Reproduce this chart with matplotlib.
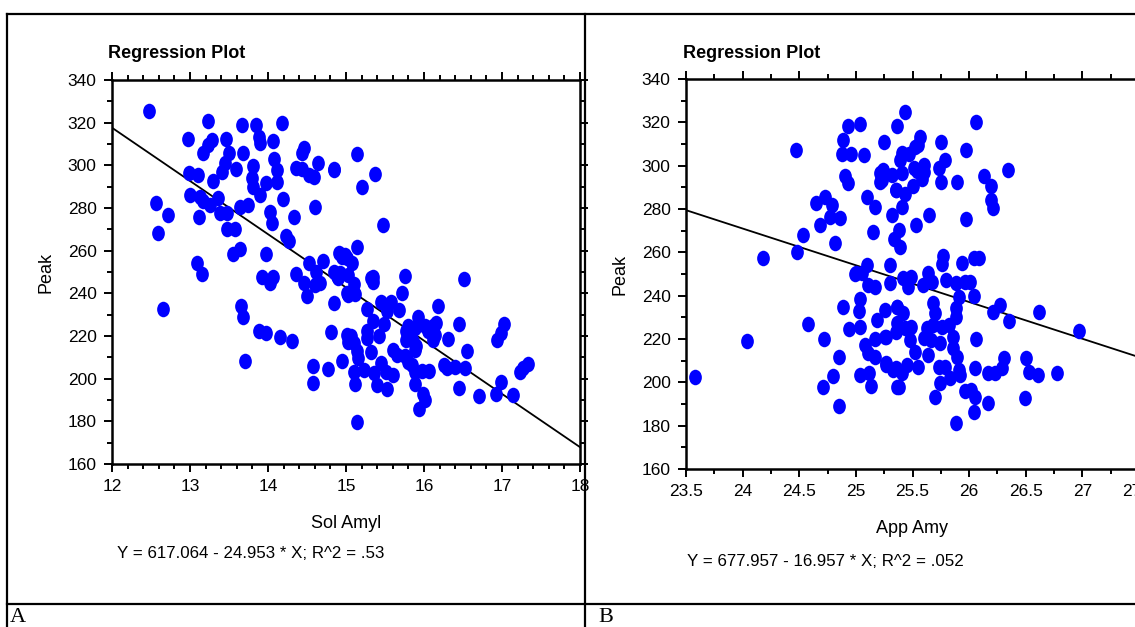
import matplotlib
matplotlib.use("Agg")
import matplotlib.pyplot as plt
import numpy as np
from matplotlib.lines import Line2D
from matplotlib.path import Path
from matplotlib.transforms import Affine2D
from matplotlib.ticker import MultipleLocator

# panel A: Sol Amyl vs Peak
sol_amyl = [12.47, 13.23, 13.67, 13.85, 14.18, 12.97, 13.28, 13.23, 13.17, 13.46,
            13.50, 13.68, 13.89, 13.90, 14.06, 14.46, 14.43, 14.64, 14.85, 14.36,
            14.43, 14.52, 14.59, 14.08, 14.11, 14.11, 13.98, 13.81, 13.79, 13.81,
            13.90, 13.59, 13.45, 13.41, 13.30, 12.99, 13.10, 13.00, 13.13, 13.17,
            13.26, 13.36, 13.38, 13.47, 13.64, 13.74, 14.19, 14.60, 14.03, 14.05,
            14.33, 12.57, 12.72, 12.59, 13.12, 13.47, 13.58, 14.23, 14.27, 13.64,
            13.55, 13.98, 14.52, 14.70, 13.09, 13.15, 13.92, 14.06, 14.36, 14.62,
            14.91, 14.99, 14.84, 14.92, 15.14, 14.85, 15.37, 15.21, 15.48, 15.14,
            14.95, 15.01, 15.08, 14.88, 15.03, 15.32, 15.75, 16.51, 12.66, 13.66,
            13.68, 13.71, 13.88, 13.98, 14.16, 14.31, 14.03, 14.46, 14.50, 14.60,
            14.67, 14.90, 14.85, 15.01, 14.58, 14.58, 14.77, 14.81, 14.95, 15.01,
            15.03, 15.10, 15.12, 15.03, 15.34, 15.35, 15.72, 15.27, 15.45, 15.58,
            15.68, 15.53, 15.34, 15.27, 15.27, 15.06, 15.10, 15.49, 15.42, 15.32,
            15.14, 15.16, 15.10, 15.12, 15.23, 15.36, 15.40, 15.53, 15.45, 15.51,
            15.60, 15.60, 15.66, 15.75, 15.79, 15.77, 15.77, 15.86, 15.88, 15.90,
            15.79, 15.92, 15.88, 15.84, 15.88, 15.97, 15.88, 15.99, 16.01, 15.94,
            15.14, 16.06, 16.01, 16.12, 16.16, 16.12, 16.05, 16.14, 16.18, 16.31,
            16.45, 16.55, 16.25, 16.29, 16.40, 16.53, 16.45, 16.71, 16.92, 16.99,
            17.14, 16.94, 16.99, 17.03, 17.23, 17.27, 17.33]
peak_a = [325.5, 320.8, 318.9, 318.9, 320.0, 312.4, 311.9, 309.5, 305.7, 312.4,
          306.0, 306.0, 313.4, 310.3, 311.4, 308.0, 306.0, 301.3, 298.3, 298.6,
          298.2, 295.5, 294.4, 302.8, 297.8, 292.3, 291.6, 299.5, 293.9, 290.0,
          286.1, 298.2, 301.0, 297.0, 292.7, 296.6, 295.5, 286.1, 285.3, 283.2,
          281.4, 284.6, 277.5, 277.5, 280.6, 281.4, 284.2, 280.6, 278.3, 272.8,
          276.0, 282.2, 276.7, 268.4, 276.0, 270.2, 270.2, 266.9, 264.3, 260.8,
          258.3, 258.3, 254.4, 255.2, 254.4, 249.1, 247.8, 247.8, 248.9, 250.2,
          258.8, 258.0, 250.2, 249.4, 305.4, 297.6, 295.9, 290.0, 272.1, 261.5,
          257.2, 256.7, 254.3, 248.0, 248.8, 247.2, 248.3, 246.7, 232.7, 234.1,
          228.8, 208.4, 222.4, 221.3, 219.7, 217.7, 245.0, 245.0, 238.6, 243.9,
          244.7, 247.0, 235.6, 240.0, 205.8, 197.8, 204.5, 222.0, 208.4, 220.5,
          217.3, 244.5, 239.7, 239.0, 247.7, 245.3, 240.0, 232.6, 235.8, 235.8,
          232.1, 231.8, 227.1, 222.3, 219.1, 219.9, 216.8, 225.5, 219.9, 212.5,
          212.8, 209.6, 203.3, 197.7, 204.1, 202.5, 196.9, 195.3, 207.2, 203.3,
          201.7, 213.6, 211.2, 210.4, 208.0, 222.3, 218.3, 217.6, 213.6, 215.2,
          224.7, 228.7, 223.9, 206.2, 203.0, 203.8, 197.7, 192.8, 189.8, 185.8,
          179.8, 203.7, 224.7, 224.7, 226.3, 218.3, 222.3, 220.7, 234.2, 218.8,
          225.5, 213.1, 206.4, 204.9, 205.7, 204.9, 195.4, 191.7, 193.0, 198.5,
          192.2, 218.3, 221.5, 225.5, 203.3, 204.9, 206.7]

# panel B: App Amy vs Peak
app_amy = [24.47, 24.93, 25.04, 24.89, 24.88, 24.96, 25.07, 25.25, 24.90, 24.93,
           25.21, 25.24, 25.21, 25.32, 25.35, 25.10, 25.17, 24.65, 24.73, 24.79,
           24.77, 24.86, 24.68, 25.15, 25.32, 24.53, 24.82, 24.18, 24.48, 25.10,
           25.00, 25.05, 25.30, 25.43, 25.36, 26.06, 25.57, 25.55, 25.52, 25.75,
           25.97, 25.41, 25.47, 25.39, 25.79, 25.73, 25.60, 25.54, 25.60, 25.58,
           25.51, 25.24, 25.41, 25.23, 25.75, 25.89, 26.13, 26.19, 26.19, 26.21,
           26.34, 25.50, 25.43, 25.35, 25.41, 25.65, 25.53, 25.97, 25.38, 25.34,
           25.39, 25.77, 25.76, 25.94, 26.04, 26.09, 23.58, 24.04, 24.58, 24.72,
           24.85, 24.80, 24.71, 24.85, 24.89, 24.99, 25.11, 25.17, 25.30, 25.04,
           25.03, 24.94, 25.04, 25.19, 25.26, 25.36, 25.17, 25.26, 25.35, 25.08,
           25.11, 25.17, 25.27, 25.33, 25.04, 25.12, 25.13, 25.36, 25.42, 25.49,
           25.46, 25.59, 25.64, 25.67, 25.80, 25.88, 25.96, 26.01, 26.04, 25.91,
           25.88, 25.88, 25.68, 25.70, 25.36, 25.42, 25.36, 25.43, 25.49, 25.27,
           25.63, 25.68, 25.76, 25.82, 25.86, 25.60, 25.66, 25.74, 25.48, 25.52,
           25.55, 25.64, 25.86, 25.89, 25.91, 25.27, 25.35, 25.41, 25.45, 25.38,
           25.73, 25.79, 25.74, 25.70, 25.83, 25.92, 25.96, 26.02, 26.05, 26.04,
           26.17, 25.88, 26.05, 26.17, 26.23, 26.29, 26.31, 26.06, 26.21, 26.27,
           26.35, 26.62, 26.97, 26.50, 26.53, 26.61, 26.78, 26.49]
peak_b = [307.2, 318.4, 319.2, 311.8, 305.4, 305.4, 304.9, 311.0, 295.2, 291.8,
          296.5, 297.5, 292.6, 295.7, 288.7, 285.7, 281.0, 282.6, 285.7, 281.8,
          276.4, 275.7, 272.6, 269.5, 277.2, 268.0, 264.2, 257.5, 260.3, 254.1,
          250.3, 250.3, 254.1, 324.9, 318.4, 320.3, 313.4, 309.5, 308.7, 311.0,
          307.2, 305.7, 305.4, 302.6, 302.6, 298.8, 300.3, 297.7, 297.2, 293.7,
          298.8, 298.0, 296.5, 293.4, 292.6, 292.3, 295.2, 290.6, 284.1, 280.3,
          298.0, 290.6, 286.9, 288.7, 281.0, 277.2, 272.6, 275.4, 270.3, 266.0,
          262.3, 258.3, 254.5, 254.9, 257.5, 257.5, 202.3, 219.1, 226.8, 220.0,
          211.8, 203.1, 197.7, 189.2, 234.9, 250.0, 244.9, 244.1, 246.0, 238.3,
          233.0, 224.6, 225.7, 228.8, 233.4, 234.6, 220.0, 220.8, 223.4, 217.2,
          213.4, 211.8, 208.0, 205.7, 203.4, 204.4, 198.4, 198.0, 248.0, 248.7,
          244.1, 244.9, 250.3, 246.4, 247.2, 245.7, 246.4, 246.4, 239.8, 239.5,
          234.2, 230.0, 236.5, 231.9, 234.9, 232.1, 227.2, 224.9, 225.7, 221.1,
          224.9, 226.5, 225.7, 226.5, 221.1, 220.3, 219.5, 218.0, 219.5, 214.1,
          207.2, 212.6, 215.7, 211.8, 205.7, 208.8, 206.5, 204.2, 208.0, 198.0,
          207.2, 207.2, 199.5, 193.4, 201.9, 203.4, 196.0, 196.5, 193.4, 186.2,
          190.3, 181.1, 206.5, 204.2, 204.2, 206.5, 211.1, 220.0, 232.6, 235.7,
          228.4, 232.3, 223.8, 211.1, 204.9, 203.4, 204.2, 192.9]

# fitted lines as reported by the regression
fit_a = (617.064, -24.953, '.53')
fit_b = (677.957, -16.957, '.052')

W, H = 1135, 627
fig = plt.figure(figsize=(W / 100, H / 100), dpi=100)
fig.patch.set_facecolor('white')

sans = ['Liberation Sans', 'DejaVu Sans']
serif = ['Liberation Serif', 'DejaVu Serif']

# oval marker, a bit taller than wide
oval = Path.unit_circle().transformed(Affine2D().scale(0.82, 1.0))


def fx(px):
    return px / W


def fy(py):
    return 1 - py / H


def setup_axes(ax, xlim, xmajor, xminor):
    ax.set_xlim(*xlim)
    ax.set_ylim(160, 340)
    ax.xaxis.set_major_locator(MultipleLocator(xmajor))
    ax.xaxis.set_minor_locator(MultipleLocator(xminor))
    ax.yaxis.set_major_locator(MultipleLocator(20))
    ax.yaxis.set_minor_locator(MultipleLocator(10))
    ax.tick_params(which='both', direction='out', top=True, right=True,
                   width=1.4, colors='black')
    ax.tick_params(which='major', length=6, labelsize=12.5, pad=5)
    ax.tick_params(which='minor', length=3.5)
    for s in ax.spines.values():
        s.set_linewidth(1.8)
    for lab in ax.get_xticklabels() + ax.get_yticklabels():
        lab.set_family(sans)
    ax.xaxis.set_major_formatter(plt.FuncFormatter(lambda v, p: f'{v:g}'))


def panel(ax, x, y, fit, xlim, xlabel):
    ax.scatter(x, y, s=125, marker=oval, color='#0000ff', linewidths=0, zorder=3)
    xs = np.array(xlim)
    ax.plot(xs, fit[0] + fit[1] * xs, color='black', lw=1.3, zorder=2)
    ax.set_xlabel(xlabel, family=sans, fontsize=13)
    ax.set_ylabel('Peak', family=sans, fontsize=13)


# panel A
ax1 = fig.add_axes([fx(112), fy(464), fx(580) - fx(112), (464 - 80) / H])
panel(ax1, sol_amyl, peak_a, fit_a, (12, 18), 'Sol Amyl')
setup_axes(ax1, (12, 18), 1, 0.2)
ax1.yaxis.set_label_coords(-0.122, 0.5)
ax1.xaxis.set_label_coords(0.5, -0.132)

# panel B (runs off the right edge)
ax2 = fig.add_axes([fx(686), fy(469), (1139 - 686) / W, (469 - 79) / H])
panel(ax2, app_amy, peak_b, fit_b, (23.5, 27.5), 'App Amy')
setup_axes(ax2, (23.5, 27.5), 0.5, 0.25)
ax2.yaxis.set_label_coords(-0.128, 0.5)
ax2.xaxis.set_label_coords(0.5, -0.132)

for x0 in (108, 683):
    fig.text(fx(x0), fy(54), 'Regression Plot', family=sans, fontsize=13,
             fontweight='bold', va='center', ha='left')

fig.text(fx(117), fy(553),
         f'Y = {fit_a[0]:.3f} - {abs(fit_a[1]):.3f} * X; R^2 = {fit_a[2]}',
         family=sans, fontsize=12.2, va='center', ha='left')
fig.text(fx(687), fy(561),
         f'Y = {fit_b[0]:.3f} - {abs(fit_b[1]):.3f} * X; R^2 = {fit_b[2]}',
         family=sans, fontsize=12.2, va='center', ha='left')

# table frame around the two panels
frame = dict(color='black', lw=1.6, transform=fig.transFigure)
fig.add_artist(Line2D([fx(7), 1], [fy(14), fy(14)], **frame))
fig.add_artist(Line2D([fx(7), fx(7)], [fy(14), 0], **frame))
fig.add_artist(Line2D([fx(585), fx(585)], [fy(14), 0], **frame))
fig.add_artist(Line2D([fx(7), 1], [fy(604), fy(604)], **frame))

fig.text(fx(10), fy(617), 'A', family=serif, fontsize=16, va='center', ha='left')
fig.text(fx(598), fy(617), 'B', family=serif, fontsize=16, va='center', ha='left')

fig.savefig('out.png', dpi=100)
